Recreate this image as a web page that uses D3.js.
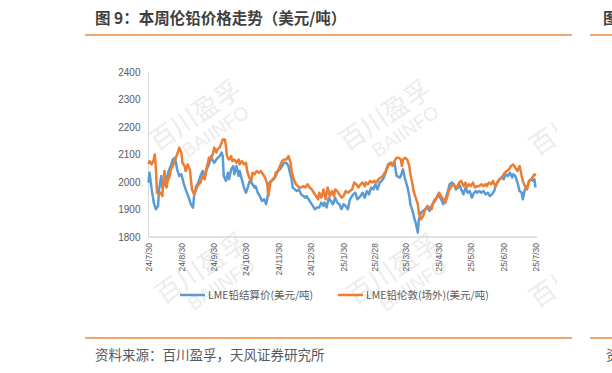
<!DOCTYPE html>
<html><head><meta charset="utf-8">
<script src="https://cdn.jsdelivr.net/npm/d3@7/dist/d3.min.js"></script>
<style>body{margin:0;background:#fff}svg{display:block}</style>
</head><body>
<script>
// ---- data (days after 2024-07-30) ----
const startDate = new Date(2024, 6, 30);
const settleDay = [0,1,3,5,7,9,10,12,13,15,17,19,21,23,25,27,29,31,33,35,38,40,42,43,45,47,49,51,53,55,57,59,60,62,64,67,69,70,71,73,75,76,78,80,81,83,85,86,88,90,92,94,96,97,100,101,103,105,107,109,111,113,114,116,118,120,122,124,126,128,130,132,133,135,136,138,140,142,144,146,148,149,151,153,155,157,159,161,163,165,166,168,170,172,174,176,178,180,182,184,186,188,190,193,195,197,200,202,204,206,208,210,212,214,216,218,220,222,224,226,229,231,232,234,237,238,240,242,244,246,247,249,251,252,254,255,257,259,261,263,265,266,268,271,273,275,276,278,280,282,284,286,288,290,292,293,295,297,299,301,303,305,307,309,310,312,314,316,318,320,322,324,326,327,329,331,333,335,337,339,341,343,344,346,348,350,352,353,355,357,359,361,363,364,365];
const settleValue = [1998,2034,1973,1925,1901,1913,1973,2022,1980,1992,2010,2040,2058,2082,2088,2046,2022,2028,1998,1973,1943,1919,1907,1949,1985,1998,2022,2040,2016,2046,2064,2094,2082,2070,2082,2094,2107,2094,2022,2004,2034,2010,2046,2058,2028,2058,2022,2040,2010,1980,1961,1985,2010,1998,1980,1985,1961,1949,1931,1937,1919,1961,1998,2004,2010,2022,2040,2046,2058,2070,2070,2058,2040,2010,1980,1973,1967,1973,1955,1949,1943,1949,1937,1925,1913,1901,1907,1907,1925,1913,1925,1907,1943,1931,1919,1943,1925,1919,1901,1919,1913,1901,1937,1955,1961,1937,1949,1961,1943,1967,1955,1980,1973,1992,1973,1998,2004,2016,2040,2064,2070,2064,2070,2022,2016,2022,2046,2010,1985,1949,1919,1895,1864,1852,1816,1864,1888,1895,1901,1907,1895,1907,1919,1937,1955,1943,1937,1919,1937,1961,1992,1998,1992,1973,1980,1992,1973,1955,1980,1961,1967,1943,1961,1967,1961,1967,1961,1967,1955,1961,1949,1955,1967,1980,1998,2010,2016,2010,2028,2022,2034,2016,2028,2022,1998,1967,1961,1937,1973,1980,2004,2010,2004,2010,1980];
const londonDay = [0,1,3,5,6,7,8,10,12,13,15,17,18,20,21,23,25,27,29,31,32,34,35,37,39,40,41,43,45,46,49,51,53,54,56,57,59,61,62,64,65,67,69,70,72,73,74,76,78,79,81,83,85,86,88,90,92,93,95,97,98,100,102,104,106,108,110,112,113,115,117,119,120,122,124,126,128,130,132,134,135,137,139,141,142,144,146,148,150,152,154,156,158,160,161,163,165,167,169,171,173,175,176,178,180,182,184,186,188,190,192,194,196,198,200,202,204,205,207,209,211,213,215,217,219,221,222,224,226,228,230,232,234,236,238,239,240,242,244,246,247,249,250,252,254,255,257,259,261,263,265,267,268,270,272,274,276,278,280,282,283,285,287,289,291,293,295,297,299,300,302,304,306,308,310,312,314,316,318,319,321,323,325,327,329,331,333,334,336,338,340,342,344,346,348,350,351,353,355,357,359,361,363,364,365];
const londonValue = [2065,2076,2064,2082,2100,2046,1961,1955,1961,1949,2040,1980,2004,2022,2046,2058,2082,2100,2125,2107,2070,2058,2040,2064,2046,2010,1973,1955,1973,1985,1998,2022,2010,2040,2070,2088,2082,2107,2125,2107,2119,2125,2143,2155,2155,2131,2094,2082,2094,2076,2082,2070,2082,2064,2076,2064,2070,2040,2016,2004,2034,2028,2040,2034,2040,2028,2016,1992,1949,1998,2010,2016,2034,2040,2058,2076,2082,2082,2094,2070,2040,2010,1992,1985,1980,1980,1985,1980,1992,1980,1973,1961,1949,1937,1961,1943,1973,1937,1980,1949,1967,1949,1973,1967,1955,1943,1949,1967,1961,1967,1973,1998,1992,1980,1992,1998,1985,1998,1992,2004,1998,2004,1998,2010,2016,2022,2028,2040,2058,2070,2058,2076,2088,2088,2082,2058,2082,2088,2082,2058,2028,1992,1967,1943,1919,1888,1864,1876,1901,1913,1907,1901,1919,1937,1943,1961,1949,1937,1925,1949,1967,1980,1992,1985,1980,1998,2004,1985,1998,1980,1992,1985,1998,1980,1985,1985,1992,1985,1992,1985,1998,1992,2004,1985,1998,2010,2016,2022,2034,2040,2046,2058,2064,2052,2040,2058,2040,2004,1985,1973,2004,2010,2022,2028,2022];
const tickDates = ["2024-07-30","2024-08-30","2024-09-30","2024-10-30","2024-11-30","2024-12-30","2025-01-30","2025-02-28","2025-03-30","2025-04-30","2025-05-30","2025-06-30","2025-07-30"];
const tickLabels = ["24/7/30","24/8/30","24/9/30","24/10/30","24/11/30","24/12/30","25/1/30","25/2/28","25/3/30","25/4/30","25/5/30","25/6/30","25/7/30"];
const yTicks = [1800,1900,2000,2100,2200,2300,2400];
const seriesNames = ["LME铅结算价(美元/吨)","LME铅伦敦(场外)(美元/吨)"];
const titleText = "图 9：本周伦铅价格走势（美元/吨）";
const sourceText = "资料来源：百川盈孚，天风证券研究所";

// ---- drawing ----
const W = 612, H = 373;
const svg = d3.select("body").append("svg").attr("width", W).attr("height", H)
  .style("font-family", "'Noto Sans CJK SC','Noto Sans',sans-serif");
const blue = "#5B9BD5", orange = "#ED7D31", grey = "#595959";
const parse = d3.timeParse("%Y-%m-%d");
const toDate = d => d3.timeDay.offset(startDate, d);

const x = d3.scaleTime().domain([startDate, toDate(365)]).range([148.5, 535.5]);
const y = d3.scaleLinear().domain([1800, 2400]).range([237, 72]);

// header / footer
svg.append("text").attr("x", 95).attr("y", 24).attr("fill", "#3f3f3f")
  .attr("font-size", 15.5).attr("font-weight", "bold").text(titleText);
svg.append("text").attr("x", 603).attr("y", 24).attr("fill", "#3f3f3f")
  .attr("font-size", 15.5).attr("font-weight", "bold").text("图");
[[85, 572], [590, 612]].forEach(([a, b]) => {
  svg.append("line").attr("x1", a).attr("x2", b).attr("y1", 35).attr("y2", 35)
    .attr("stroke", "#EE8A3C").attr("stroke-width", 1.5);
  svg.append("line").attr("x1", a).attr("x2", b).attr("y1", 338).attr("y2", 338)
    .attr("stroke", "#EE8A3C").attr("stroke-width", 1.5);
});
svg.append("text").attr("x", 95).attr("y", 360).attr("fill", grey)
  .attr("font-size", 13.5).text(sourceText);
svg.append("text").attr("x", 606).attr("y", 360).attr("fill", grey)
  .attr("font-size", 13.5).text("资");

// watermarks
svg.append("clipPath").attr("id", "wm").append("rect")
  .attr("x", 85).attr("y", 40).attr("width", 472).attr("height", 292);
const wm = svg.append("g").attr("clip-path", "url(#wm)").attr("fill", "#ececec");
[[157,152],[347,152],[537,157],[163,305],[355,306],[537,309]].forEach(([px, py]) => {
  const g = wm.append("g").attr("transform", `translate(${px},${py}) rotate(-34)`);
  g.append("text").attr("x", 0).attr("y", 0).attr("font-size", 26).text("百川盈孚");
  g.append("text").attr("x", 22).attr("y", 22).attr("font-size", 19).attr("font-family", "'Liberation Sans',sans-serif").text("BAIINFO");
});

// axes
svg.append("line").attr("x1", 148.5).attr("x2", 148.5).attr("y1", 72).attr("y2", 237)
  .attr("stroke", "#d9d9d9").attr("stroke-width", 1);
svg.append("line").attr("x1", 148.5).attr("x2", 537).attr("y1", 237).attr("y2", 237)
  .attr("stroke", "#d9d9d9").attr("stroke-width", 1.5);

const yAxis = svg.append("g").attr("transform", "translate(148.5,0)")
  .call(d3.axisLeft(y).tickValues(yTicks).tickSize(0).tickPadding(8).tickFormat(d3.format("d")));
yAxis.select(".domain").remove();
yAxis.selectAll("text").attr("fill", grey).attr("font-size", 10)
  .attr("font-family", "'Liberation Sans',Arial,sans-serif");

const xAxis = svg.append("g").attr("transform", "translate(0,237)")
  .call(d3.axisBottom(x).tickValues(tickDates.map(parse)).tickSize(0)
    .tickFormat((d, i) => tickLabels[i]));
xAxis.select(".domain").remove();
xAxis.selectAll("text").attr("fill", grey).attr("font-size", 8.5)
  .attr("font-family", "'Liberation Sans',Arial,sans-serif")
  .attr("text-anchor", "end").attr("dy", "0.32em")
  .attr("transform", "translate(0,6) rotate(-90)").attr("x", 0).attr("y", 0);

// lines
const line = d3.line().x(d => x(toDate(d[0]))).y(d => y(d[1]));
const s1 = settleDay.map((d, i) => [d, settleValue[i]]);
const s2 = londonDay.map((d, i) => [d, londonValue[i]]);
svg.append("path").datum(s1).attr("d", line).attr("fill", "none")
  .attr("stroke", blue).attr("stroke-width", 2.5).attr("stroke-linejoin", "round");
svg.append("path").datum(s2).attr("d", line).attr("fill", "none")
  .attr("stroke", orange).attr("stroke-width", 2.5).attr("stroke-linejoin", "round");

// legend
const leg = [{c: blue, x: 180, n: seriesNames[0]}, {c: orange, x: 338, n: seriesNames[1]}];
leg.forEach(l => {
  svg.append("line").attr("x1", l.x).attr("x2", l.x + 25).attr("y1", 295).attr("y2", 295)
    .attr("stroke", l.c).attr("stroke-width", 2.5);
  svg.append("text").attr("x", l.x + 28).attr("y", 295).attr("dy", "0.35em")
    .attr("fill", grey).attr("font-size", 10.5).text(l.n);
});
</script>
</body></html>
